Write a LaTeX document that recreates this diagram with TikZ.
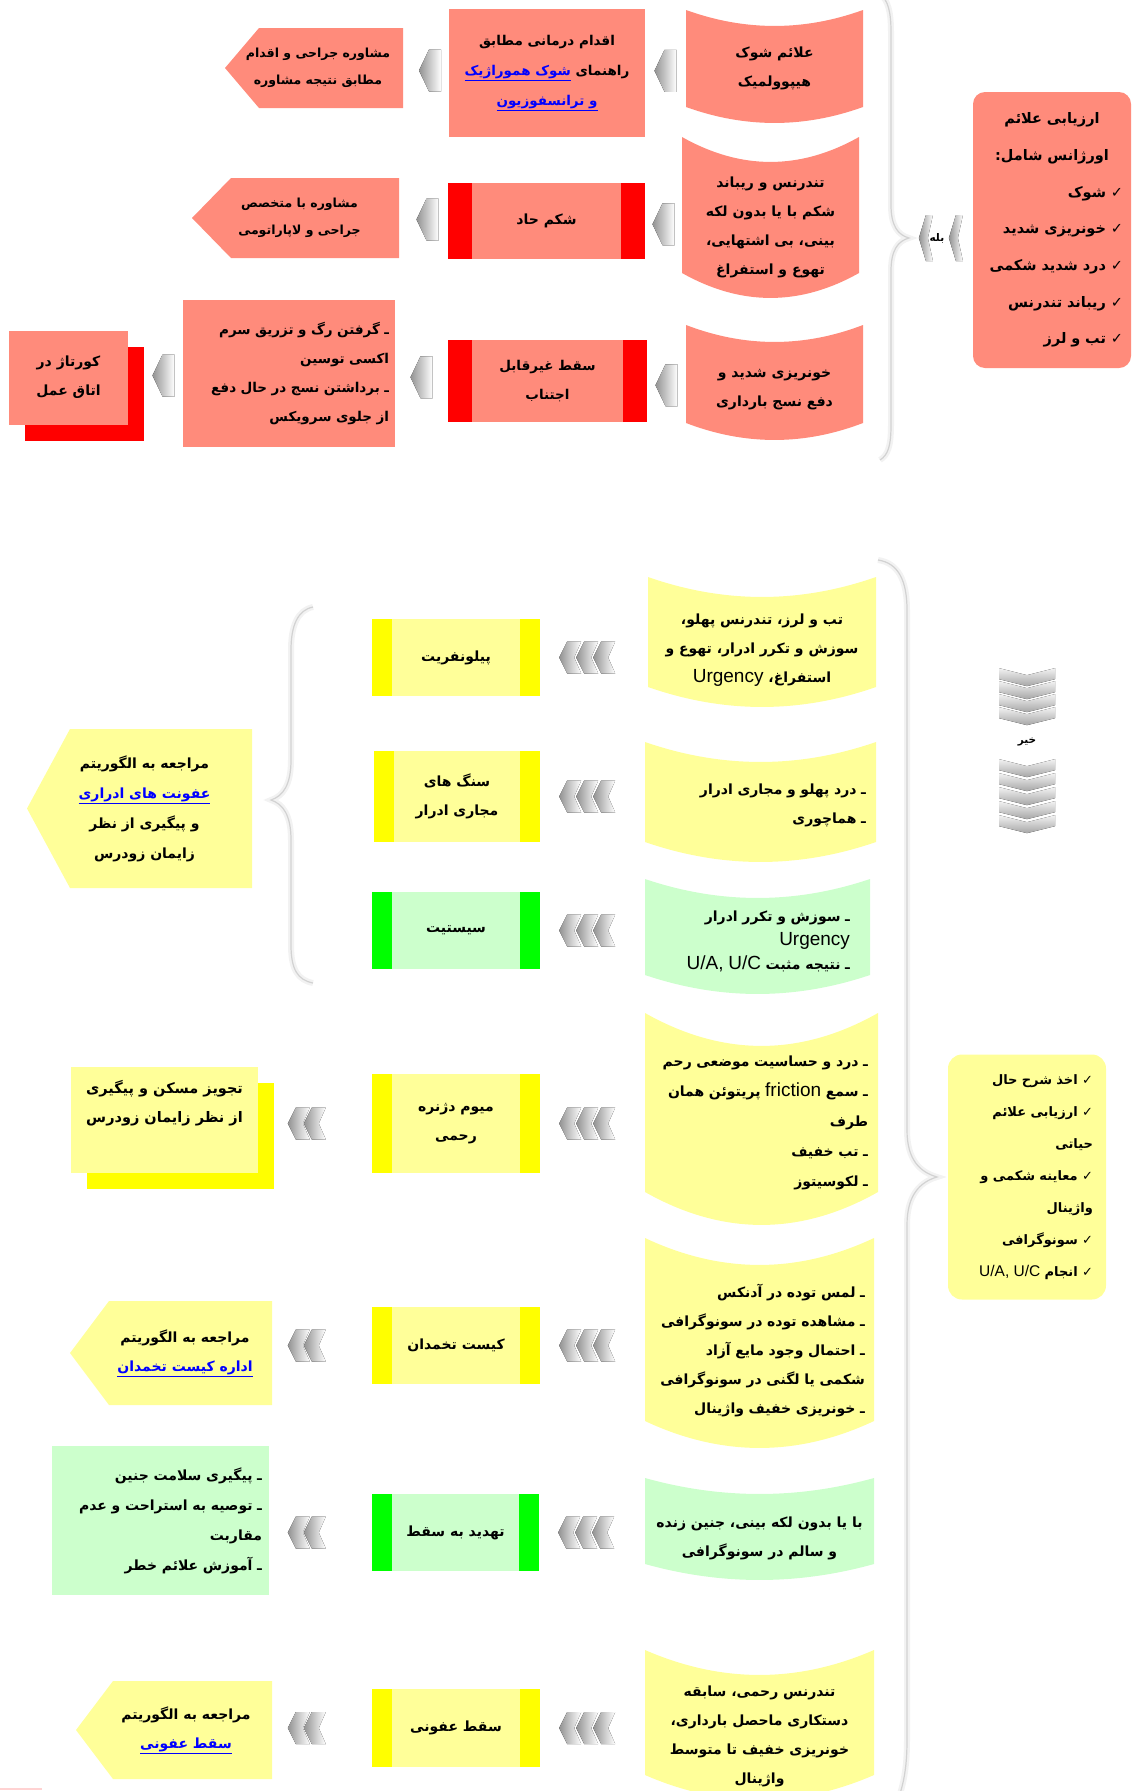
\documentclass[tikz,border=0pt]{standalone}
\usepackage{fontspec}
\usetikzlibrary{calc, positioning, shadows}
\TeXXeTstate=1
\newfontfamily\arabicfont[Script=Arabic]{DejaVu Sans}
\newfontfamily\latinfont{Liberation Sans}
\definecolor{salm}{HTML}{FF8B7B}
\definecolor{lyel}{HTML}{FFFF99}
\definecolor{yel}{HTML}{FFFF00}
\definecolor{lgrn}{HTML}{CCFFCC}
\definecolor{grn}{HTML}{00FF00}
\definecolor{redb}{HTML}{FF0000}
\definecolor{lnkblue}{HTML}{0000FF}
\newcommand{\fa}[1]{\beginR #1\endR}
\newcommand{\en}[1]{\beginL{\latinfont\mdseries\fontsize{19}{24}\selectfont #1}\endL}
\newcommand{\ens}[1]{\beginL{\latinfont\mdseries\fontsize{15.5}{20}\selectfont #1}\endL}
\newcommand{\lnk}[1]{\textcolor{lnkblue}{\underline{#1}}}
\newcommand{\chk}{{\mdseries ✓}\ }
\newcommand{\fs}[2]{\arabicfont\bfseries\fontsize{#1}{#2}\selectfont}

\tikzstyle{base} = [font=\fs{14}{29}, inner sep=0pt, align=center]
\tikzstyle{lbl} = [font=\fs{10.5}{12}, inner sep=1pt]
\tikzstyle{brc} = [draw=gray!35, line width=1.2pt, preaction={draw=gray!10, line width=6pt}]
\tikzstyle{chevshade} = [left color=gray!85, right color=white]

\tikzset{
  cyl/.style n args={3}{base, path picture={
    \fill[#1] let \p1=(path picture bounding box.north west),
                  \p2=(path picture bounding box.south east),
                  \n1={(\x2-\x1)/3} in
      (\x1,\y1) .. controls ({\x1+\n1},{\y1-1.33*#2pt}) and ({\x2-\n1},{\y1-1.33*#2pt}) .. (\x2,\y1)
      -- (\x2,{\y2+2*#3pt+#2pt})
      .. controls ({\x2-\n1},{\y2+2*#3pt-0.33*#2pt}) and ({\x1+\n1},{\y2+2*#3pt-0.33*#2pt}) .. (\x1,{\y2+2*#3pt+#2pt})
      -- cycle;}},
  barbox/.style n args={3}{base, fill=#1, path picture={
    \fill[#2] (path picture bounding box.north west) rectangle ([xshift=#3pt]path picture bounding box.south west);
    \fill[#2] (path picture bounding box.north east) rectangle ([xshift=-#3pt]path picture bounding box.south east);}},
  lpent/.style n args={3}{base, path picture={
    \fill[#1] let \p1=(path picture bounding box.north west),
                  \p2=(path picture bounding box.south east) in
      (\x1,{(\y1+\y2)/2}) -- ({\x1+#2pt},\y1) -- ({\x2-2*#3pt},\y1) -- ({\x2-2*#3pt},\y2) -- ({\x1+#2pt},\y2) -- cycle;}},
  shbox/.style={drop shadow={shadow xshift=16pt, shadow yshift=-16pt, fill=#1, opacity=1}},
  larr/.pic={\fill[chevshade] (-11,0) -- (-1,-21) -- (11,-21) -- (11,21) -- (-1,21) -- cycle;},
  nchev/.pic={\fill[chevshade] (-11,0) -- (-3,-16) -- (11,-16) -- (4,0) -- (11,16) -- (-3,16) -- cycle;},
  larr2/.pic={\pic at (-8,0) {nchev}; \pic at (8,0) {nchev};},
  larr3/.pic={\pic at (-17,0) {nchev}; \pic at (0,0) {nchev}; \pic at (17,0) {nchev};},
  ychev/.pic={\fill[chevshade] (-7,0) -- (0,-23) -- (7,-23) -- (2,0) -- (7,23) -- (0,23) -- cycle;},
  darr/.pic={\fill[top color=gray!10, bottom color=gray!70] (-28,-6) -- (0,1) -- (28,-6) -- (28,5) -- (0,12) -- (-28,5) -- cycle;}
}

\begin{document}
\begin{tikzpicture}[x=1pt, y=-1pt]
  \useasboundingbox (0,0) rectangle (1132,1791);

  % braces
  \coordinate (btip) at (909,238);
  \coordinate (utip) at (271,800);
  \coordinate (atip) at (937,1177);
  \draw[brc] (880,-6) .. controls (888,0) and (891,12) .. (891,32) -- (891,205)
    .. controls (891,226) and (898,235) .. (btip) .. controls (898,241) and (891,250) .. (891,271)
    -- (891,425) .. controls (891,446) and (888,455) .. (880,460);
  \draw[brc] (878,560) .. controls (898,563) and (907,580) .. (907,610) -- (907,1130)
    .. controls (907,1160) and (920,1172) .. (atip) .. controls (920,1182) and (907,1195) .. (907,1225)
    -- (907,1740) .. controls (907,1770) and (903,1785) .. (898,1800);
  \draw[brc] (313,607) .. controls (298,610) and (291,625) .. (291,650) -- (291,760)
    .. controls (291,785) and (283,796) .. (utip) .. controls (283,804) and (291,815) .. (291,840)
    -- (291,945) .. controls (291,970) and (298,980) .. (313,983);

  % top section
  \node (emerg) [base, fill=salm, rounded corners=12pt, minimum width=158, minimum height=276,
    text width=142, align=right, font=\fs{14.5}{36.7}] at (1052,230)
    {\makebox[142pt][c]{\fa{ارزیابی علائم}}\\
     \makebox[142pt][c]{\fa{اورژانس شامل:}}\\
     \fa{\chk شوک}\\ \fa{\chk خونریزی شدید}\\ \fa{\chk درد شدید شکمی}\\
     \fa{\chk ریباند تندرنس}\\ \fa{\chk تب و لرز}};
  \node (hyposhock) [cyl={salm}{16}{2}, minimum width=177, minimum height=117] at (774.5,68.5)
    {\fa{علائم شوک}\\ \fa{هیپوولمیک}};
  \node (tender) [cyl={salm}{25}{10}, minimum width=177, minimum height=181] at (770.5,227.5)
    {\fa{تندرنس و ریباند}\\ \fa{شکم با یا بدون لکه}\\ \fa{بینی، بی اشتهایی،}\\ \fa{تهوع و استفراغ}};
  \node (bleed) [cyl={salm}{17}{7}, minimum width=177, minimum height=129] at (774.5,389.5)
    {\fa{خونریزی شدید و}\\ \fa{دفع نسج بارداری}};

  \node (transf) [base, fill=salm, minimum width=196, minimum height=128, font=\fs{13.5}{30}] at (547,73)
    {\fa{اقدام درمانی مطابق}\\ \lnk{\fa{شوک هموراژیک}}\ \fa{راهنمای}\\ \lnk{\fa{و ترانسفوزیون}}};
  \node (acuteab) [barbox={salm}{redb}{24}, minimum width=197, minimum height=76, font=\fs{14}{29}] at (546.5,221)
    {\fa{شکم حاد}};
  \node (inevab) [barbox={salm}{redb}{24}, minimum width=199, minimum height=82, font=\fs{13.5}{29}] at (547.5,381)
    {\fa{سقط غیرقابل}\\ \fa{اجتناب}};

  \node (surgcons) [lpent={salm}{34}{4}, minimum width=186, minimum height=80, font=\fs{12.5}{27}] at (318,68)
    {\fa{مشاوره جراحی و اقدام}\\ \fa{مطابق نتیجه مشاوره}};
  \node (lapcons) [lpent={salm}{39}{4}, minimum width=215, minimum height=80, font=\fs{12.5}{27}] at (299.5,218)
    {\fa{مشاوره با متخصص}\\ \fa{جراحی و لاپاراتومی}};
  \node (oxyt) [base, fill=salm, minimum width=212, minimum height=147, text width=200, align=right,
    font=\fs{13.5}{29}] at (289,373.5)
    {\fa{ـ گرفتن رگ و تزریق سرم}\\ \fa{اکسی توسین}\hspace*{14pt}\\
     \fa{ـ برداشتن نسج در حال دفع}\\ \fa{از جلوی سرویکس}\hspace*{14pt}};
  \node (curettage) [base, shbox=redb, fill=salm, minimum width=119, minimum height=94] at (68.5,377.5)
    {\fa{کورتاژ در}\\ \fa{اتاق عمل}};

  % bottom section
  \node (assess) [base, fill=lyel, rounded corners=14pt, minimum width=158, minimum height=245,
    text width=132, align=right, font=\fs{13}{32}] at (1027,1177)
    {\fa{\chk اخذ شرح حال}\\ \fa{\chk ارزیابی علائم}\\ \fa{حیاتی}\hspace*{20pt}\\
     \fa{\chk معاینه شکمی و}\\ \fa{واژینال}\hspace*{20pt}\\ \fa{\chk سونوگرافی}\\
     \fa{\chk انجام \ens{U/A, U/C}}};

  \node (pyelosx) [cyl={lyel}{20}{8}, minimum width=228, minimum height=146] at (762,650)
    {\fa{تب و لرز، تندرنس پهلو،}\\ \fa{سوزش و تکرر ادرار، تهوع و}\\ \fa{استفراغ، \en{Urgency}}};
  \node (stonesx) [cyl={lyel}{20}{3}, minimum width=231, minimum height=126, text width=211, align=right] at (760.5,805)
    {\fa{ـ درد پهلو و مجاری ادرار}\\ \fa{ـ هماچوری}};
  \node (cystsx) [cyl={lgrn}{19}{5}, minimum width=225, minimum height=125, text width=185, align=right,
    font=\fs{14}{24}] at (757.5,941.5)
    {\fa{ـ سوزش و تکرر ادرار}\\ \en{Urgency}\hspace*{14pt}\\ \fa{ـ نتیجه مثبت \en{U/A, U/C}}};
  \node (myomsx) [cyl={lyel}{33}{4}, minimum width=233, minimum height=220, text width=213, align=right,
    font=\fs{14}{30}] at (761.5,1123)
    {\fa{ـ درد و حساسیت موضعی رحم}\\ \fa{ـ سمع \en{friction} پریتوئن همان}\\ \fa{طرف}\hspace*{14pt}\\
     \fa{ـ تب خفیف}\\ \fa{ـ لکوسیتوز}};
  \node (ovcystsx) [cyl={lyel}{27}{8}, minimum width=229, minimum height=226, text width=211, align=right] at (759.5,1351)
    {\fa{ـ لمس توده در آدنکس}\\ \fa{ـ مشاهده توده در سونوگرافی}\\ \fa{ـ احتمال وجود مایع آزاد}\\
     \fa{شکمی یا لگنی در سونوگرافی}\hspace*{8pt}\\ \fa{ـ خونریزی خفیف واژینال}};
  \node (threatsx) [cyl={lgrn}{16}{9}, minimum width=229, minimum height=120] at (759.5,1538)
    {\fa{با یا بدون لکه بینی، جنین زنده}\\ \fa{و سالم در سونوگرافی}};
  \node (septicsx) [cyl={lyel}{25}{11}, minimum width=229, minimum height=172] at (759.5,1736)
    {\fa{تندرنس رحمی، سابقه}\\ \fa{دستکاری ماحصل بارداری،}\\ \fa{خونریزی خفیف تا متوسط}\\ \fa{واژینال}};

  \node (pyelo) [barbox={lyel}{yel}{20}, minimum width=168, minimum height=77] at (456,657.5) {\fa{پیلونفریت}};
  \node (stone) [barbox={lyel}{yel}{20}, minimum width=166, minimum height=91] at (457,796.5)
    {\fa{سنگ های}\\ \fa{مجاری ادرار}};
  \node (cystitis) [barbox={lgrn}{grn}{20}, minimum width=168, minimum height=77] at (456,930.5) {\fa{سیستیت}};
  \node (myoma) [barbox={lyel}{yel}{20}, minimum width=168, minimum height=99] at (456,1123.5)
    {\fa{میوم دژنره}\\ \fa{رحمی}};
  \node (ovcyst) [barbox={lyel}{yel}{20}, minimum width=168, minimum height=77] at (456,1345.5) {\fa{کیست تخمدان}};
  \node (threat) [barbox={lgrn}{grn}{20}, minimum width=167, minimum height=77] at (455.5,1532.5) {\fa{تهدید به سقط}};
  \node (septic) [barbox={lyel}{yel}{20}, minimum width=168, minimum height=78] at (456,1728) {\fa{سقط عفونی}};

  \node (uti) [lpent={lyel}{43}{5}, minimum width=235, minimum height=159, font=\fs{14}{30}] at (144.5,808.5)
    {\fa{مراجعه به الگوریتم}\\ \lnk{\fa{عفونت های ادراری}}\\ \fa{و پیگیری از نظر}\\ \fa{زایمان زودرس}};
  \node (analges) [base, shbox=yel, fill=lyel, minimum width=187, minimum height=106, font=\fs{14.5}{29}] at (164.5,1120)
    {\fa{تجویز مسکن و پیگیری}\\ \fa{از نظر زایمان زودرس}\\[8pt]};
  \node (ovalg) [lpent={lyel}{39}{14}, minimum width=230, minimum height=104] at (185,1353)
    {\fa{مراجعه به الگوریتم}\\ \lnk{\fa{اداره کیست تخمدان}}};
  \node (fetal) [base, fill=lgrn, minimum width=217, minimum height=149, text width=203, align=right,
    font=\fs{14}{30}] at (160.5,1520.5)
    {\fa{ـ پیگیری سلامت جنین}\\ \fa{ـ توصیه به استراحت و عدم}\\ \fa{مقاربت}\hspace*{14pt}\\ \fa{ـ آموزش علائم خطر}\\[6pt]};
  \node (sepalg) [lpent={lyel}{37}{12}, minimum width=220, minimum height=98] at (186,1730)
    {\fa{مراجعه به الگوریتم}\\ \lnk{\fa{سقط عفونی}}};

  % connectors
  \pic at ($(transf.east)!0.5!(hyposhock.west)$) {larr};
  \pic at ($(surgcons.east)!0.5!(transf.west)$) {larr};
  \pic at ($(acuteab.east)!0.5!(tender.west)$) {larr};
  \pic at ($(lapcons.east)!0.5!(acuteab.west)$) {larr};
  \pic at ($(inevab.east)!0.5!(bleed.west)$) {larr};
  \pic at ($(oxyt.east)!0.5!(inevab.west)$) {larr};
  \pic at ($([xshift=16pt]curettage.east)!0.5!(oxyt.west)$) {larr};

  \foreach \mid in {pyelo, stone, cystitis, myoma, ovcyst, threat, septic}
    \pic at ([xshift=47pt]\mid.east) {larr3};
  \foreach \mid in {myoma, ovcyst, threat, septic}
    \pic at ([xshift=-65pt]\mid.west) {larr2};

  \coordinate (yesc) at ($(btip)!0.5!(emerg.west |- btip)$);
  \pic at ([xshift=-15pt]yesc) {ychev};
  \pic at ([xshift=15pt]yesc) {ychev};
  \node (yes) [lbl] at ([xshift=-4pt]yesc) {\fa{بله}};

  \coordinate (noc) at ($(assess.north)!0.455!(assess.north |- emerg.south)$);
  \foreach \i in {0,...,3}
    \pic at ($(noc)+(0,{-68+13*\i})$) {darr};
  \foreach \i in {0,...,4}
    \pic at ($(noc)+(0,{23+14*\i})$) {darr};
  \node (no) [lbl] at (noc) {\fa{خیر}};

  \draw[pink!70, line width=2pt] (0,1789) -- (42,1789);
\end{tikzpicture}
\end{document}
